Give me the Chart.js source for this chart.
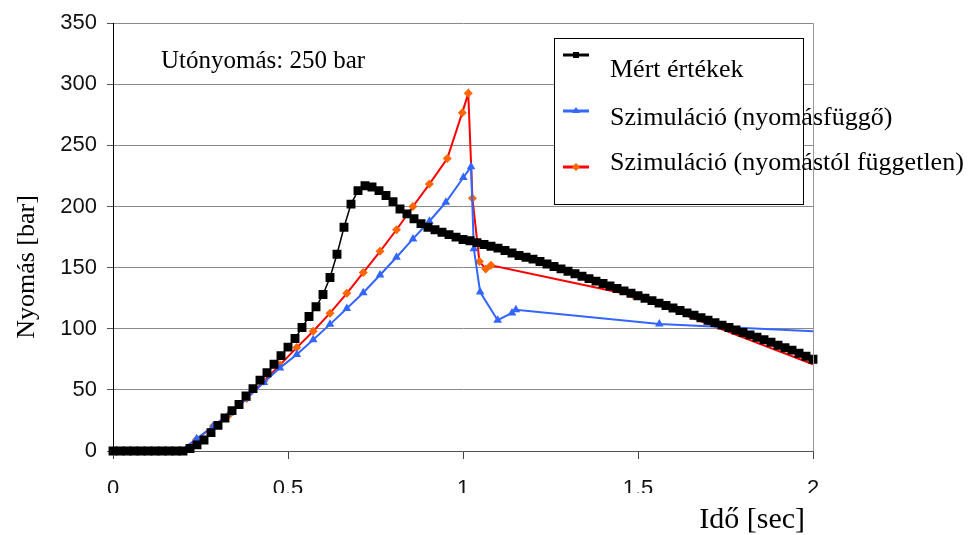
<!DOCTYPE html>
<html>
<head>
<meta charset="utf-8">
<script src="https://cdn.jsdelivr.net/npm/chart.js@4.4.1/dist/chart.umd.min.js"></script>
<style>
html,body{margin:0;padding:0;background:#fff;}
#wrap{width:978px;height:535px;}
</style>
</head>
<body>
<div id="wrap"><canvas id="c" width="978" height="535"></canvas></div>
<script>
// ---- data ----
const seriesNames = ['Mért értékek', 'Szimuláció (nyomásfüggő)', 'Szimuláció (nyomástól független)'];
const noteText = 'Utónyomás: 250 bar';
const xTitle = 'Idő [sec]';
const yTitle = 'Nyomás [bar]';
const xTicks = [0, 0.5, 1, 1.5, 2];
const xTickLabels = ['0', '0.5', '1', '1.5', '2'];
const yTicks = [0, 50, 100, 150, 200, 250, 300, 350];

const measTime = [0,0.02,0.04,0.06,0.08,0.1,0.12,0.14,0.16,0.18,0.2,0.22,0.24,0.26,0.28,0.3,0.32,0.34,0.36,0.38,
  0.4,0.42,0.44,0.46,0.48,0.5,0.52,0.54,0.56,0.58,0.6,0.62,0.64,0.66,0.68,0.7,0.72,0.74,0.76,0.78,
  0.8,0.82,0.84,0.86,0.88,0.9,0.92,0.94,0.96,0.98,1.0,1.02,1.04,1.06,1.08,1.1,1.12,1.14,1.16,1.18,
  1.2,1.22,1.24,1.26,1.28,1.3,1.32,1.34,1.36,1.38,1.4,1.42,1.44,1.46,1.48,1.5,1.52,1.54,1.56,1.58,
  1.6,1.62,1.64,1.66,1.68,1.7,1.72,1.74,1.76,1.78,1.8,1.82,1.84,1.86,1.88,1.9,1.92,1.94,1.96,1.98,2.0];
const measPressure = [0,0,0,0,0,0,0,0,0,0,0,2,5,9,15,21,27,33,38,45,
  51,58,64,71,78,85,92,101,110,118,128,142,161,183,202,213,217,216,213,209,
  204,198,194,190,186,183,181,179,177,175,173,172,170.5,169,167.5,166,164,162,160,158.5,
  157,155,153,151,149,147,145,143,141,139,137,135,133,131,129,127,125,123,121,119,
  117,115,113,111,109,107,105,103,101,99,97,95,93,91,89,86.5,84.5,82.5,80,77.5,75];

const simDepTime = [0.193,0.239,0.287,0.334,0.382,0.431,0.477,0.525,0.572,0.62,0.668,0.715,0.763,0.81,0.857,0.904,0.951,1.001,1.023,1.031,1.049,1.099,1.14,1.151,1.561,2.0];
const simDepPressure = [0,10,20.5,31,43,56,68,79,91,103.6,116.5,129.5,144,158.5,173.5,188,203.5,223.8,232.5,165.4,130,107,113,115.5,104,98];

const simIndTime = [0.193,0.239,0.287,0.334,0.382,0.431,0.477,0.525,0.572,0.62,0.668,0.715,0.763,0.81,0.857,0.904,0.955,0.998,1.015,1.027,1.047,1.065,1.08,1.487,2.0];
const simIndPressure = [0,9.5,20.4,30.2,43,57,70.5,84.6,98,112.8,129,146,163.4,181,200,218.4,239.3,276.8,292.6,206.7,155,149,152,127.3,71];

const colBlack = '#000000', colBlue = '#3366FF', colRed = '#FF0000', colOrange = '#FF6600';

function pts(xs, ys){ return xs.map((x,i)=>({x:x, y:ys[i]})); }
function lastHidden(r){ return (ctx)=> ctx.dataIndex === ctx.dataset.data.length-1 ? 0 : r; }

const extras = {
  id: 'extras',
  afterDraw(chart){
    const ctx = chart.ctx, ca = chart.chartArea;
    ctx.save();
    // clip the bottom of x tick labels like the reference
    ctx.fillStyle = '#fff';
    ctx.fillRect(ca.left - 20, 493, ca.right - ca.left + 40, 8);
    // right frame line
    ctx.strokeStyle = '#999'; ctx.lineWidth = 1;
    ctx.beginPath(); ctx.moveTo(Math.round(ca.right)+0.5, ca.top); ctx.lineTo(Math.round(ca.right)+0.5, ca.bottom); ctx.stroke();
    // note
    ctx.fillStyle = '#000';
    ctx.font = '25px "Liberation Serif"';
    ctx.textAlign = 'left'; ctx.textBaseline = 'alphabetic';
    ctx.fillText(noteText, 161, 68);
    // axis titles
    ctx.font = '26px "Liberation Serif"';
    ctx.save(); ctx.translate(27, 267); ctx.rotate(-Math.PI/2);
    ctx.textAlign = 'center'; ctx.textBaseline = 'middle'; ctx.fillText(yTitle, 0, 0); ctx.restore();
    ctx.font = '30px "Liberation Serif"';
    ctx.textAlign = 'right'; ctx.fillText(xTitle, 805, 528);
    // legend box
    ctx.fillStyle = '#fff'; ctx.fillRect(554, 38, 250, 167);
    ctx.strokeStyle = '#000'; ctx.lineWidth = 1; ctx.strokeRect(554.5, 38.5, 249, 166);
    const lineY = [55, 111, 167], textY = [77, 125, 170];
    const cols = [colBlack, colBlue, colRed], mcols = [colBlack, colBlue, colOrange];
    for (let i = 0; i < 3; i++){
      ctx.strokeStyle = cols[i]; ctx.lineWidth = 3;
      ctx.beginPath(); ctx.moveTo(563, lineY[i]); ctx.lineTo(589, lineY[i]); ctx.stroke();
      ctx.fillStyle = mcols[i];
      ctx.beginPath();
      if (i === 0){ ctx.rect(573, lineY[i]-3, 6, 6); }
      else if (i === 1){ ctx.moveTo(576, lineY[i]-4); ctx.lineTo(580, lineY[i]+2); ctx.lineTo(572, lineY[i]+2); ctx.closePath(); }
      else { ctx.moveTo(576, lineY[i]-4); ctx.lineTo(580, lineY[i]); ctx.lineTo(576, lineY[i]+4); ctx.lineTo(572, lineY[i]); ctx.closePath(); }
      ctx.fill();
      ctx.fillStyle = '#000'; ctx.font = '26px "Liberation Serif"'; ctx.textAlign = 'left';
      ctx.fillText(seriesNames[i], 610, textY[i]);
    }
    ctx.restore();
  }
};

new Chart(document.getElementById('c'), {
  type: 'line',
  data: {
    datasets: [
      { label: seriesNames[0], data: pts(measTime, measPressure), borderColor: colBlack, backgroundColor: colBlack,
        borderWidth: 1.5, pointStyle: 'rect', pointRadius: 6.3, pointBorderWidth: 0, pointBackgroundColor: colBlack, clip: 8 },
      { label: seriesNames[1], data: pts(simDepTime, simDepPressure), borderColor: colBlue, backgroundColor: colBlue,
        borderWidth: 2, pointStyle: 'triangle', pointRadius: lastHidden(5), pointBorderWidth: 0, pointBackgroundColor: colBlue, clip: 6 },
      { label: seriesNames[2], data: pts(simIndTime, simIndPressure), borderColor: colRed, backgroundColor: colOrange,
        borderWidth: 2, pointStyle: 'rectRot', pointRadius: lastHidden(4.5), pointBorderWidth: 0, pointBackgroundColor: colOrange, clip: 6 }
    ]
  },
  options: {
    responsive: false,
    devicePixelRatio: 1,
    animation: false,
    layout: { padding: { left: 0, top: 22, right: 165, bottom: 0 } },
    plugins: { legend: { display: false }, tooltip: { enabled: false } },
    elements: { line: { tension: 0 } },
    scales: {
      x: {
        type: 'linear', min: 0, max: 2,
        afterFit(s){ s.height = 84; },
        afterBuildTicks(s){ s.ticks = xTicks.map(v=>({value:v})); },
        grid: { color: 'rgba(0,0,0,0)', tickColor: '#444', drawTicks: true, tickLength: 8 },
        border: { display: true, color: '#555', width: 1 },
        ticks: { padding: 17, color: '#111', font: { family: 'Liberation Sans', size: 22 }, maxRotation: 0,
          callback: (v) => { const i = xTicks.indexOf(v); return i >= 0 ? xTickLabels[i] : ''; } }
      },
      y: {
        type: 'linear', min: 0, max: 350,
        afterFit(s){ s.width = 113; },
        afterBuildTicks(s){ s.ticks = yTicks.map(v=>({value:v})); },
        grid: { color: '#8a8a8a', tickColor: '#555', drawTicks: true, tickLength: 6 },
        border: { display: true, color: '#000', width: 1 },
        ticks: { padding: 10, color: '#111', font: { family: 'Liberation Sans', size: 22 } }
      }
    }
  },
  plugins: [extras]
});
</script>
</body>
</html>
